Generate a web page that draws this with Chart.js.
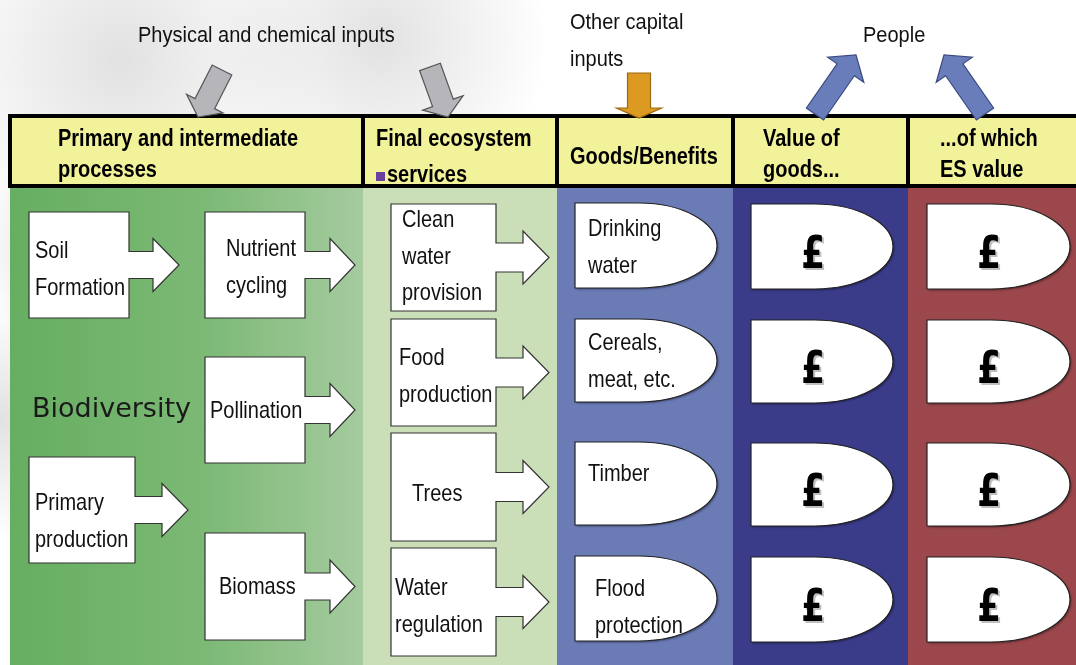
<!DOCTYPE html>
<html>
<head>
<meta charset="utf-8">
<script src="https://cdn.jsdelivr.net/npm/chart.js@4/dist/chart.umd.min.js"></script>
<style>
  html, body { margin: 0; padding: 0; background: #fff; overflow: hidden; }
  canvas { display: block; }
</style>
</head>
<body>
<canvas id="esChart" width="1076" height="665"></canvas>
<script>
// text content of the diagram
const headers = [
  ['Primary and intermediate', 'processes'],
  ['Final ecosystem', 'services'],
  ['Goods/Benefits'],
  ['Value of', 'goods...'],
  ['...of which', 'ES value']
];
const processLabels = [['Soil', 'Formation'], ['Nutrient', 'cycling'], ['Pollination'], ['Primary', 'production'], ['Biomass']];
const serviceLabels = [['Clean', 'water', 'provision'], ['Food', 'production'], ['Trees'], ['Water', 'regulation']];
const goodsLabels = [['Drinking', 'water'], ['Cereals,', 'meat, etc.'], ['Timber'], ['Flood', 'protection']];
const valueSymbol = '£';
const inputLabels = [['Physical and chemical inputs'], ['Other capital', 'inputs'], ['People']];
const hubLabel = 'Biodiversity';

// layout, in diagram units (the axes run 0..1076 and 0..665)
const colEdges = [10, 363, 557, 733, 908, 1080];
const colFills = ['green', '#cadfb8', '#6a7bb6', '#3a3c8a', '#9b474b'];
const headTop = 116, headBottom = 186;
const headTextX = [58, 376, 570, 763, 940];
// process boxes: x0, y0, x1, y1, shaft end, tip, text x, text centre y
const processBoxes = [
  [29, 212, 129, 318, 153, 179, 35, 270],
  [205, 212, 305, 318, 330, 355, 226, 268],
  [205, 357, 305, 463, 330, 355, 210, 411],
  [29, 457, 135, 563, 162, 188, 35, 522],
  [205, 533, 305, 640, 330, 355, 219, 587]
];
const serviceRows = [[204, 311, 402, 257], [319, 426, 399, 377], [433, 541, 412, 494], [548, 656, 395, 607]];
const rowShapes = [[203, 288], [319, 402], [442, 525], [556, 641]];
const goodsText = [[588, 248], [588, 362], [588, 474], [595, 608]];

const lineGap = 36.5;
const FONT = '"Liberation Sans", Arial, sans-serif';

function blockArrow(ctx, bx, by, tx, ty, sw, hw, hl) {
  const dx = tx - bx, dy = ty - by;
  const len = Math.hypot(dx, dy);
  const ux = dx / len, uy = dy / len, px = -uy, py = ux;
  const hx = tx - ux * hl, hy = ty - uy * hl;
  ctx.beginPath();
  ctx.moveTo(bx + px * sw, by + py * sw);
  ctx.lineTo(hx + px * sw, hy + py * sw);
  ctx.lineTo(hx + px * hw, hy + py * hw);
  ctx.lineTo(tx, ty);
  ctx.lineTo(hx - px * hw, hy - py * hw);
  ctx.lineTo(hx - px * sw, hy - py * sw);
  ctx.lineTo(bx - px * sw, by - py * sw);
  ctx.closePath();
}

// text drawn slightly taller than wide, like the original slide
function tallText(ctx, t, x, y, font, sx, sy) {
  ctx.save();
  ctx.translate(x, y);
  ctx.scale(sx, sy);
  ctx.font = font;
  ctx.textBaseline = 'middle';
  ctx.fillText(t, 0, 0);
  ctx.restore();
}

const diagramPlugin = {
  id: 'diagram',
  beforeDatasetsDraw(chart) {
    const ctx = chart.ctx;
    const X = v => chart.scales.x.getPixelForValue(v);
    const Y = v => chart.scales.y.getPixelForValue(v);

    ctx.save();
    // faint watermark behind the top band
    [[120, 60, 200], [380, 40, 170], [0, 420, 120], [60, 250, 90]].forEach(([cx, cy, r]) => {
      const g = ctx.createRadialGradient(X(cx), Y(cy), 0, X(cx), Y(cy), r);
      g.addColorStop(0, 'rgba(150,150,150,0.28)');
      g.addColorStop(1, 'rgba(150,150,150,0)');
      ctx.fillStyle = g;
      ctx.fillRect(X(cx) - r, Y(cy) - r, 2 * r, 2 * r);
    });

    // column bodies
    colFills.forEach((fill, i) => {
      const x0 = X(colEdges[i]), x1 = X(colEdges[i + 1]);
      if (fill === 'green') {
        const g = ctx.createLinearGradient(x0, 0, x1, 0);
        g.addColorStop(0, '#66ae61');
        g.addColorStop(0.55, '#7cb975');
        g.addColorStop(1, '#a5cb9f');
        ctx.fillStyle = g;
      } else {
        ctx.fillStyle = fill;
      }
      ctx.fillRect(x0, Y(headBottom), x1 - x0, Y(665) - Y(headBottom) + 1);
    });

    // header cells
    const headFont = 'bold 20px ' + FONT;
    headers.forEach((lines, i) => {
      const x0 = X(colEdges[i]), x1 = X(colEdges[i + 1]);
      ctx.fillStyle = '#f2f29b';
      ctx.fillRect(x0, Y(headTop), x1 - x0, Y(headBottom) - Y(headTop));
      ctx.strokeStyle = '#000';
      ctx.lineWidth = 4;
      ctx.strokeRect(x0, Y(headTop), x1 - x0, Y(headBottom) - Y(headTop));
      ctx.fillStyle = '#000';
      if (lines.length === 1) {
        tallText(ctx, lines[0], X(headTextX[i]), Y(157), headFont, 1, 1.18);
      } else {
        tallText(ctx, lines[0], X(headTextX[i]), Y(139), headFont, 1, 1.18);
        if (i === 1) {
          ctx.fillStyle = '#6a3fa0';
          ctx.fillRect(X(376), Y(172), 9, 9);
          ctx.fillStyle = '#000';
          tallText(ctx, lines[1], X(387), Y(175), headFont, 1, 1.18);
        } else {
          tallText(ctx, lines[1], X(headTextX[i]), Y(170), headFont, 1, 1.18);
        }
      }
    });

    // input / output arrows above the header
    ctx.lineWidth = 1.2;
    const arrows = [
      [222, 70, 198, 117, 11, 20.5, 15, '#b6b6ba', '#555'],
      [430, 67, 448, 117, 11, 21.5, 15, '#b6b6ba', '#555'],
      [639, 73, 639, 118, 11.5, 22.5, 10, '#dd9a22', '#9c6a12'],
      [815, 114, 856, 55, 10.5, 22, 18, '#6a7dbb', '#3b4a80'],
      [985, 114, 944, 55, 10.5, 22, 18, '#6a7dbb', '#3b4a80']
    ];
    arrows.forEach(([bx, by, tx, ty, sw, hw, hl, fill, line]) => {
      blockArrow(ctx, X(bx), Y(by), X(tx), Y(ty), sw, hw, hl);
      ctx.fillStyle = fill;
      ctx.fill();
      ctx.strokeStyle = line;
      ctx.stroke();
    });

    ctx.fillStyle = '#111';
    const topFont = '20px ' + FONT;
    tallText(ctx, inputLabels[0][0], X(138), Y(36), topFont, 1, 1.12);
    tallText(ctx, inputLabels[1][0], X(570), Y(23), topFont, 1, 1.12);
    tallText(ctx, inputLabels[1][1], X(570), Y(60), topFont, 1, 1.12);
    tallText(ctx, inputLabels[2][0], X(863), Y(36), topFont, 1, 1.12);

    // boxes with attached arrows
    const arrowBox = (x0, y0, x1, y1, sx, tip, sh, hh) => {
      const cy = (y0 + y1) / 2;
      ctx.beginPath();
      ctx.moveTo(X(x0), Y(y0));
      ctx.lineTo(X(x1), Y(y0));
      ctx.lineTo(X(x1), Y(cy - sh));
      ctx.lineTo(X(sx), Y(cy - sh));
      ctx.lineTo(X(sx), Y(cy - hh));
      ctx.lineTo(X(tip), Y(cy));
      ctx.lineTo(X(sx), Y(cy + hh));
      ctx.lineTo(X(sx), Y(cy + sh));
      ctx.lineTo(X(x1), Y(cy + sh));
      ctx.lineTo(X(x1), Y(y1));
      ctx.lineTo(X(x0), Y(y1));
      ctx.closePath();
      ctx.fillStyle = '#fff';
      ctx.fill();
      ctx.strokeStyle = '#333';
      ctx.lineWidth = 1.2;
      ctx.stroke();
    };
    const bodyFont = '20px ' + FONT;
    const writeLines = (lines, x, cy) => {
      ctx.fillStyle = '#111';
      ctx.textAlign = 'left';
      const start = cy - (lines.length - 1) * lineGap / 2;
      lines.forEach((t, k) => tallText(ctx, t, X(x), Y(start + k * lineGap), bodyFont, 1, 1.2));
    };

    processLabels.forEach((lines, i) => {
      const [x0, y0, x1, y1, sx, tip, tx, ty] = processBoxes[i];
      arrowBox(x0, y0, x1, y1, sx, tip, 13.5, 26.5);
      writeLines(lines, tx, ty);
    });

    serviceLabels.forEach((lines, i) => {
      const [y0, y1, tx, ty] = serviceRows[i];
      arrowBox(391, y0, 496, y1, 523, 549, 14.5, 26.5);
      writeLines(lines, tx, ty);
    });

    // rounded "bullet" shapes
    const bullet = (x0, y0, x1, y1) => {
      const rx = (x1 - x0) * 0.55;
      const xs = x1 - rx, cy = (y0 + y1) / 2;
      ctx.save();
      ctx.shadowColor = 'rgba(0,0,0,0.35)';
      ctx.shadowOffsetX = 1.5;
      ctx.shadowOffsetY = 1.5;
      ctx.shadowBlur = 2;
      ctx.beginPath();
      ctx.moveTo(X(x0), Y(y0));
      ctx.lineTo(X(xs), Y(y0));
      ctx.ellipse(X(xs), Y(cy), X(x1) - X(xs), Y(cy) - Y(y0), 0, -Math.PI / 2, Math.PI / 2);
      ctx.lineTo(X(x0), Y(y1));
      ctx.closePath();
      ctx.fillStyle = '#fff';
      ctx.fill();
      ctx.restore();
      ctx.strokeStyle = '#222';
      ctx.lineWidth = 1.2;
      ctx.stroke();
    };

    goodsLabels.forEach((lines, i) => {
      const [y0, y1] = rowShapes[i];
      bullet(575, y0, 717, y1);
      writeLines(lines, goodsText[i][0], goodsText[i][1]);
    });

    const poundFont = 'bold 40px "DejaVu Sans", sans-serif';
    [[751, 893, 813], [927, 1070, 989]].forEach(([x0, x1, sx]) => {
      rowShapes.forEach(([y0, y1]) => {
        bullet(x0, y0 + 1, x1, y1 + 1);
        ctx.textAlign = 'center';
        const py = Y((y0 + y1) / 2 + 11);
        ctx.fillStyle = 'rgba(0,0,0,0.25)';
        tallText(ctx, valueSymbol, X(sx) + 2, py + 2, poundFont, 0.85, 1.1);
        ctx.fillStyle = '#000';
        tallText(ctx, valueSymbol, X(sx), py, poundFont, 0.85, 1.1);
      });
    });
    ctx.textAlign = 'left';

    // biodiversity label
    ctx.fillStyle = '#1a1a1a';
    tallText(ctx, hubLabel, X(32), Y(410), '27px "DejaVu Sans", sans-serif', 1, 1);
    ctx.restore();
  }
};

new Chart(document.getElementById('esChart'), {
  type: 'scatter',
  data: { datasets: [{ data: [], pointRadius: 0 }] },
  options: {
    responsive: false,
    animation: false,
    devicePixelRatio: 1,
    layout: { padding: 0 },
    plugins: { legend: { display: false }, tooltip: { enabled: false } },
    scales: {
      x: { type: 'linear', min: 0, max: 1076, display: false },
      y: { type: 'linear', min: 0, max: 665, reverse: true, display: false }
    }
  },
  plugins: [diagramPlugin]
});
</script>
</body>
</html>
